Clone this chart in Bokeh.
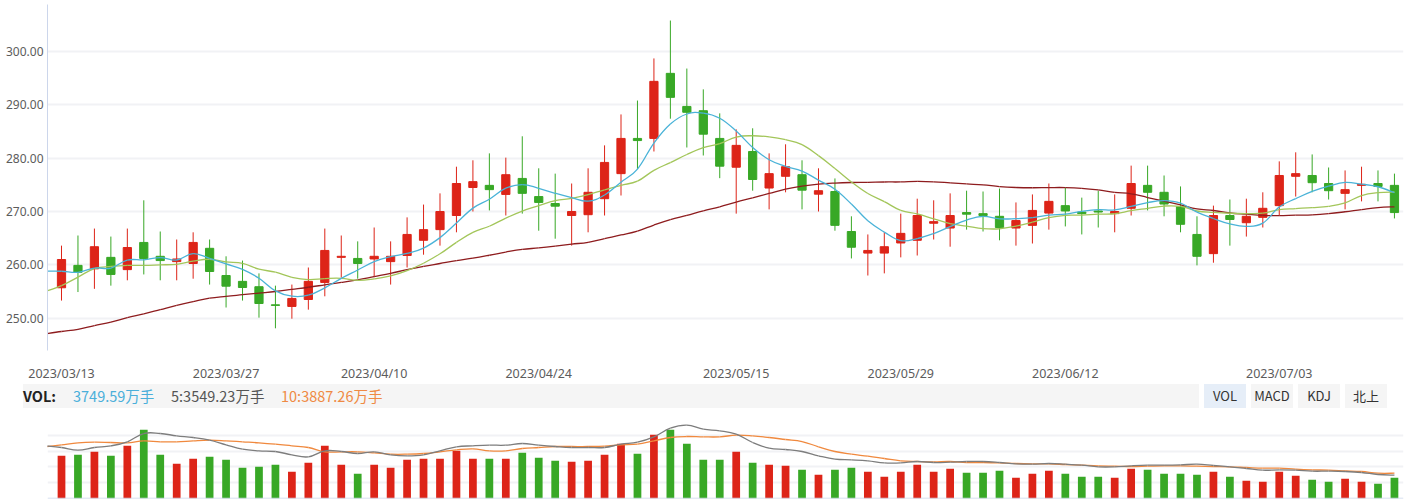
import pandas as pd
from bokeh.plotting import figure
from bokeh.models import Range1d, FixedTicker, NumeralTickFormatter, Span, Div
from bokeh.layouts import column
from bokeh.embed import file_html
from bokeh.resources import INLINE

# ---------------- data ----------------
dates = [
    "2023/03/13", "2023/03/14", "2023/03/15", "2023/03/16", "2023/03/17",
    "2023/03/20", "2023/03/21", "2023/03/22", "2023/03/23", "2023/03/24",
    "2023/03/27", "2023/03/28", "2023/03/29", "2023/03/30", "2023/03/31",
    "2023/04/03", "2023/04/04", "2023/04/06", "2023/04/07",
    "2023/04/10", "2023/04/11", "2023/04/12", "2023/04/13", "2023/04/14",
    "2023/04/17", "2023/04/18", "2023/04/19", "2023/04/20", "2023/04/21",
    "2023/04/24", "2023/04/25", "2023/04/26", "2023/04/27", "2023/04/28",
    "2023/05/04", "2023/05/05",
    "2023/05/08", "2023/05/09", "2023/05/10", "2023/05/11", "2023/05/12",
    "2023/05/15", "2023/05/16", "2023/05/17", "2023/05/18", "2023/05/19",
    "2023/05/22", "2023/05/23", "2023/05/24", "2023/05/25", "2023/05/26",
    "2023/05/29", "2023/05/30", "2023/05/31", "2023/06/01", "2023/06/02",
    "2023/06/05", "2023/06/06", "2023/06/07", "2023/06/08", "2023/06/09",
    "2023/06/12", "2023/06/13", "2023/06/14", "2023/06/15", "2023/06/16",
    "2023/06/19", "2023/06/20", "2023/06/21",
    "2023/06/26", "2023/06/27", "2023/06/28", "2023/06/29", "2023/06/30",
    "2023/07/03", "2023/07/04", "2023/07/05", "2023/07/06", "2023/07/07",
    "2023/07/10", "2023/07/11", "2023/07/12",
]

open_ = [255.7, 259.9, 259.25, 261.4, 259.1, 264.2, 261.6, 260.6, 260.25, 263.1,
         258.0, 256.9, 255.9, 252.5, 252.2, 253.5, 256.7, 261.4, 261.2, 261.1,
         260.6, 261.75, 264.6, 266.6, 269.25, 274.5, 274.9, 273.2, 276.2, 272.8,
         271.5, 269.25, 269.4, 272.4, 277.1, 283.7, 283.7, 295.9, 289.7, 288.9,
         283.7, 278.3, 281.25, 274.4, 276.6, 276.9, 273.25, 273.75, 266.25, 262.2,
         262.2, 264.1, 264.6, 267.8, 266.9, 269.8, 269.6, 269.1, 266.9, 267.4,
         269.7, 271.1, 269.9, 270.1, 269.6, 270.6, 274.9, 273.6, 270.9, 265.7,
         262.1, 269.25, 267.9, 268.9, 271.1, 276.6, 276.75, 275.25, 273.4, 274.9,
         275.25, 274.9]
close = [261.0, 258.6, 263.4, 258.2, 263.25, 261.2, 260.8, 261.1, 264.2, 258.75,
         256.0, 255.75, 252.75, 252.4, 253.7, 256.9, 262.7, 261.6, 260.25, 261.6,
         261.6, 265.7, 266.6, 270.0, 275.25, 275.6, 274.1, 276.9, 273.4, 271.7,
         271.0, 270.0, 273.6, 279.2, 283.7, 283.3, 294.4, 291.4, 288.6, 284.5,
         278.5, 282.4, 276.0, 277.1, 278.4, 274.0, 273.9, 267.4, 263.3, 262.7,
         263.4, 265.9, 269.25, 268.1, 269.25, 269.5, 269.25, 267.0, 268.3, 270.2,
         271.9, 270.1, 269.6, 269.9, 270.0, 275.25, 273.6, 271.4, 267.6, 261.6,
         269.25, 268.5, 269.1, 270.6, 276.75, 277.1, 275.4, 273.9, 274.1, 275.1,
         274.7, 269.8]
high = [263.6, 265.5, 266.8, 265.3, 266.8, 272.1, 266.25, 264.75, 266.1, 264.75,
        261.6, 260.8, 258.4, 256.1, 256.3, 259.5, 266.8, 265.5, 264.4, 267.0,
        264.4, 268.9, 271.3, 273.4, 278.4, 279.6, 280.9, 280.1, 284.1, 278.1,
        277.1, 275.25, 278.1, 282.4, 288.2, 290.8, 298.7, 305.8, 296.8, 292.9,
        288.4, 285.4, 285.6, 280.9, 282.6, 279.6, 278.1, 276.2, 269.1, 265.7,
        266.1, 269.6, 272.4, 272.1, 273.4, 273.9, 273.75, 274.3, 271.7, 273.2,
        275.25, 274.5, 272.6, 273.9, 273.2, 278.6, 278.6, 276.75, 274.7, 269.1,
        271.1, 272.25, 272.4, 273.6, 279.4, 281.1, 280.7, 278.25, 277.7, 278.4,
        277.7, 277.1]
low = [253.3, 254.9, 255.5, 256.1, 257.1, 258.2, 257.1, 257.1, 257.4, 256.3,
       252.0, 253.3, 250.1, 248.1, 249.9, 251.6, 254.1, 257.6, 257.4, 257.7,
       256.3, 259.5, 261.9, 263.6, 266.1, 270.0, 270.2, 269.25, 269.6, 266.4,
       264.9, 263.6, 266.1, 269.25, 273.0, 277.9, 281.25, 287.4, 282.0, 280.5,
       276.25, 269.6, 273.9, 270.4, 273.6, 270.4, 270.0, 266.4, 261.2, 258.0,
       258.4, 261.4, 261.75, 264.75, 263.4, 266.6, 266.25, 264.6, 263.6, 264.0,
       266.6, 267.2, 265.7, 267.0, 266.1, 269.25, 270.2, 269.1, 266.1, 259.9,
       260.4, 263.6, 265.3, 267.0, 269.25, 272.8, 273.6, 272.25, 270.4, 271.9,
       271.9, 268.7]

# volume, in 万手
volume = [7729, 7910, 8453, 7729, 9539, 12435, 7910, 6281, 7186, 7548,
          7005, 5557, 5738, 6100, 4833, 6462, 9539, 6100, 4471, 6100,
          5557, 7005, 7186, 7186, 8634, 7186, 7186, 7186, 8272, 7367,
          6824, 6643, 6824, 7910, 9901, 8091, 11530, 12435, 9901, 7005,
          7005, 8453, 6462, 6100, 5919, 5195, 4290, 5195, 5557, 4833,
          3928, 4833, 6100, 4833, 5376, 4652, 4652, 5014, 3747, 4471,
          5014, 4471, 3928, 3928, 3747, 5376, 5195, 4471, 4471, 4290,
          4833, 3928, 3204, 3023, 4833, 4109, 3385, 3023, 3566, 3023,
          2661, 3750]

# volume average lines as drawn (first value = day before the window)
vol_ma5 = [9532, 9231, 8748, 9231, 9532, 10256, 11764, 11764, 11342, 11040,
           10558, 9713, 8929, 8627, 8507, 7903, 7541, 8627, 8507, 8145,
           8446, 7903, 7722, 7903, 8627, 9351, 9532, 9653, 9653, 9954,
           9653, 9411, 9231, 9231, 9231, 9834, 10196, 11161, 12730, 13273,
           12549, 12247, 11644, 10135, 9110, 8869, 8507, 7722, 7119, 6998,
           6817, 6455, 6455, 6697, 6516, 6576, 6697, 6697, 6516, 6274,
           6214, 6335, 6214, 6033, 5731, 5731, 5912, 6033, 6033, 6093,
           6214, 5973, 5731, 5430, 5128, 5188, 5128, 4947, 4947, 4887,
           4706, 4344, 4223]
vol_ma10 = [9351, 9713, 10075, 10196, 10135, 10075, 10437, 10256, 10256, 10437,
            10558, 10437, 10256, 10075, 9834, 9532, 9231, 8446, 8446, 8446,
            8265, 8024, 8024, 8145, 8446, 8808, 8989, 8627, 8627, 9050,
            9231, 9411, 9411, 9411, 9472, 9713, 9834, 10437, 11040, 11221,
            11161, 11161, 11463, 11342, 11040, 10678, 10316, 9351, 8507, 8024,
            7662, 7240, 6817, 6697, 6636, 6697, 6516, 6516, 6455, 6335,
            6274, 6274, 6154, 6033, 5912, 5852, 5792, 5852, 5912, 5912,
            5852, 5792, 5731, 5611, 5490, 5490, 5309, 5188, 5128, 5007,
            4887, 4585, 4585]

# moving averages before enough closes are in the window
ma5_head = [258.8, 258.8, 258.6, 259.4, 259.4]
ma10_head = [255.0, 256.1, 257.7, 259.3, 259.7, 259.9, 259.9, 260.0, 260.1, 260.7]
ma30_head = [247.05, 247.5, 247.9, 248.6, 249.25, 250.1, 250.8, 251.6, 252.4, 253.1,
             253.75, 254.1, 254.4, 254.7, 255.0, 255.4, 255.8, 256.25, 256.7, 257.2,
             257.8, 258.4, 259.1, 259.7, 260.25, 260.8, 261.25, 261.8, 262.4, 262.9]

tick_idx = [0, 10, 19, 29, 41, 51, 61, 74]
y_ticks = [250, 260, 270, 280, 290, 300]

vol_latest = "3749.59万手"
vol_ma5_latest = "5:3549.23万手"
vol_ma10_latest = "10:3887.26万手"
buttons = ["VOL", "MACD", "KDJ", "北上"]

# ---------------- derived ----------------
n = len(close)
xs = list(range(n))
line_x = list(range(-1, n))
cs = pd.Series(close)


def moving(head, k):
    return head + cs.rolling(k).mean().tolist()[k - 1:]


ma5 = moving(ma5_head, 5)
ma10 = moving(ma10_head, 10)
ma30 = moving(ma30_head, 30)


def smooth_line(fig, xv, yv, color, width=1.3, s=0.2):
    """Draw a polyline through the data points as smooth cubic segments."""
    m = len(xv)
    seg = dict(x0=[], y0=[], x1=[], y1=[], cx0=[], cy0=[], cx1=[], cy1=[])
    for k in range(m - 1):
        xa, ya = (xv[k - 1], yv[k - 1]) if k > 0 else (xv[k], yv[k])
        xb, yb = (xv[k + 2], yv[k + 2]) if k + 2 < m else (xv[k + 1], yv[k + 1])
        seg["x0"].append(xv[k]); seg["y0"].append(yv[k])
        seg["x1"].append(xv[k + 1]); seg["y1"].append(yv[k + 1])
        seg["cx0"].append(xv[k] + (xv[k + 1] - xa) * s)
        seg["cy0"].append(yv[k] + (yv[k + 1] - ya) * s)
        seg["cx1"].append(xv[k + 1] - (xb - xv[k]) * s)
        seg["cy1"].append(yv[k + 1] - (yb - yv[k]) * s)
    fig.bezier(line_color=color, line_width=width, **seg)


UP = "#dd2418"
DOWN = "#38a826"
colors = [UP if c >= o else DOWN for o, c in zip(open_, close)]
body_top = [max(o, c) for o, c in zip(open_, close)]
body_bot = [min(o, c) for o, c in zip(open_, close)]

W = 1410
LEFT = 47
RIGHT = 7
xr = Range1d(-0.851, 81.55)
FONT = "Noto Sans"
GRID = "#f1f2f5"

# ---------------- main chart ----------------
p = figure(width=W, height=384, x_range=xr, y_range=Range1d(243.94, 308.81),
           output_backend="svg", toolbar_location=None,
           min_border_left=LEFT, min_border_right=RIGHT,
           min_border_top=4, min_border_bottom=34)
p.outline_line_color = None
p.xgrid.visible = False
p.ygrid.grid_line_color = GRID
p.ygrid.grid_line_width = 2

p.yaxis.ticker = FixedTicker(ticks=y_ticks)
p.yaxis.formatter = NumeralTickFormatter(format="0.00")
p.yaxis.axis_line_color = "#ccd6eb"
p.yaxis.major_tick_line_color = None
p.yaxis.minor_tick_line_color = None
p.yaxis.major_tick_out = 0
p.yaxis.major_tick_in = 0
p.yaxis.minor_tick_out = 0
p.yaxis.major_label_standoff = 4
p.yaxis.major_label_text_font = FONT
p.yaxis.major_label_text_font_size = "12px"
p.yaxis.major_label_text_color = "#5c5c5c"

p.xaxis.ticker = FixedTicker(ticks=tick_idx)
p.xaxis.major_label_overrides = {i: dates[i] for i in tick_idx}
p.xaxis.axis_line_color = None
p.xaxis.major_tick_line_color = None
p.xaxis.minor_tick_line_color = None
p.xaxis.major_tick_out = 0
p.xaxis.major_tick_in = 0
p.xaxis.minor_tick_out = 0
p.xaxis.major_label_standoff = 14
p.xaxis.major_label_text_font = FONT
p.xaxis.major_label_text_font_size = "12.5px"
p.xaxis.major_label_text_color = "#5c5c5c"

p.segment(x0=xs, y0=high, x1=xs, y1=low, line_color=colors, line_width=1)
p.vbar(x=xs, top=body_top, bottom=body_bot, width=0.5,
       fill_color=colors, line_color=colors, line_width=1)

smooth_line(p, line_x, ma30, "#8e1c1e")
smooth_line(p, line_x, ma10, "#a3c65a")
smooth_line(p, line_x, ma5, "#4ab3d8")

# ---------------- header row ----------------
btn_left = [1204, 1251, 1298, 1345]
btn_fill = ["#e6eef8", "#f5f5f5", "#f5f5f5", "#f5f5f5"]
parts = [
    '<div style="position:relative;width:%dpx;height:32px;'
    "font-family:'Noto Sans CJK SC','Noto Sans',sans-serif;\">" % W,
    '<div style="position:absolute;left:23px;top:0;width:1176px;height:24px;background:#f5f5f5;"></div>',
    '<span style="position:absolute;left:23px;top:0;line-height:24px;font-size:14.5px;'
    'font-weight:bold;color:#222;">VOL:</span>',
]
for left_px, txt, col in [(73, vol_latest, "#4aafda"), (171, vol_ma5_latest, "#555555"),
                          (281, vol_ma10_latest, "#ef8a43")]:
    parts.append('<span style="position:absolute;left:%dpx;top:0;line-height:24px;'
                 'font-size:14.5px;color:%s;white-space:nowrap;">%s</span>' % (left_px, col, txt))
for bl, bf, bt in zip(btn_left, btn_fill, buttons):
    parts.append('<div style="position:absolute;left:%dpx;top:0;width:42px;height:24px;'
                 'background:%s;text-align:center;line-height:24px;font-size:13px;'
                 'color:#333;">%s</div>' % (bl, bf, bt))
parts.append("</div>")
hdr = Div(text="".join(parts), width=W, height=32, margin=(0, 0, 0, 0))

# ---------------- volume chart ----------------
v = figure(width=W, height=85, x_range=xr, y_range=Range1d(0, 14300),
           output_backend="svg", toolbar_location=None,
           min_border_left=LEFT, min_border_right=RIGHT,
           min_border_top=3, min_border_bottom=3)
v.outline_line_color = None
v.xaxis.visible = False
v.yaxis.visible = False
v.xgrid.visible = False
v.ygrid.ticker = FixedTicker(ticks=[2860, 5720, 8580, 11440, 14300])
v.ygrid.grid_line_color = GRID
v.ygrid.grid_line_width = 2
v.vbar(x=xs, top=volume, bottom=0, width=0.47, fill_color=colors, line_color=None)
smooth_line(v, line_x, vol_ma10, "#f0893e")
smooth_line(v, line_x, vol_ma5, "#7d7d7d")
v.add_layout(Span(location=0, dimension="width", line_color="#c9d5ec", line_width=1.5))

layout = column(p, hdr, v, spacing=0)
open("out.html", "w").write(file_html(layout, INLINE))
